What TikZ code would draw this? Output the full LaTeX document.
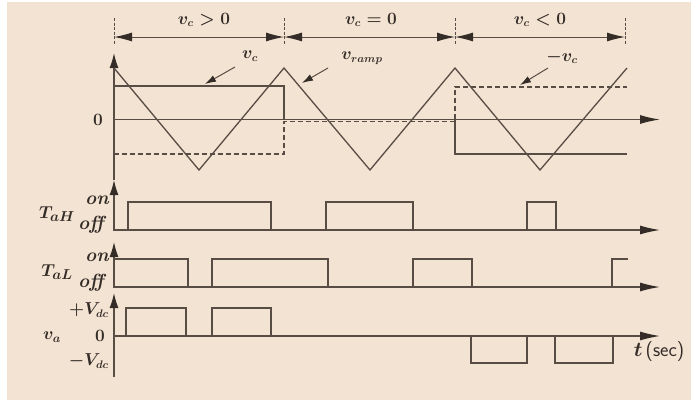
\documentclass[tikz,border=0pt]{standalone}
\usepackage{amsmath,amssymb}
\usepackage[dvipsnames]{xcolor}
\usepackage{tikz}
\usetikzlibrary{arrows.meta}

\definecolor{cream}{RGB}{243,227,211}
\definecolor{ink}{RGB}{88,77,68}
\definecolor{inkdark}{RGB}{52,44,39}

\tikzset{
  wave/.style={ink,line width=1.3pt},
  axisarrow/.style={ink,line width=1.3pt,-{Latex[length=15pt,width=9pt,color=inkdark]}},
  timearrow/.style={ink,line width=1.3pt,-{Latex[length=20pt,width=9pt,color=inkdark]}},
  dimarrow/.style={ink,line width=1pt,{Latex[length=18pt,width=9pt,color=inkdark]}-{Latex[length=18pt,width=9pt,color=inkdark]}},
  tickmark/.style={ink,line width=1pt,dash pattern=on 3pt off 1.5pt},
  lblarrow/.style={ink,line width=1pt,-{Latex[length=11pt,width=7pt,color=inkdark]}},
  lbl/.style={inkdark,font=\fontsize{16}{19}\selectfont\boldmath,inner sep=0pt},
  onoff/.style={inkdark,font=\fontsize{19}{22}\selectfont\bfseries\itshape,inner sep=0pt}
}

\begin{document}
\begin{tikzpicture}[x=1pt,y=-1pt]
  \useasboundingbox (0,0) rectangle (691,402);
  \fill[white] (0,0) rectangle (691,402);
  \fill[cream] (7,2) rectangle (691,400);

  % intervals of v_c
  \foreach \x [count=\k from 0] in {114,284,455,625} {
    \draw[tickmark] (\x,18) -- (\x,45);
    \coordinate (d\k) at (\x,37);
  }
  \draw[dimarrow] (d0) -- (d1);
  \draw[dimarrow] (d1) -- (d2);
  \draw[dimarrow] (d2) -- (d3);
  \node[lbl] (vpos) at (204,20) {$v_c>0$};
  \node[lbl] (vnil) at (371,20) {$v_c=0$};
  \node[lbl] (vneg) at (540,20) {$v_c<0$};

  % axes
  \draw[axisarrow] (114,180) -- (114,53);
  \draw[timearrow] (114,119.5) -- (660,119.5);
  \draw[axisarrow] (114,231) -- (114,180);
  \draw[timearrow] (114,230) -- (660,230);
  \draw[axisarrow] (114,288) -- (114,242);
  \draw[timearrow] (114,287) -- (660,287);
  \draw[axisarrow] (114,377) -- (114,293);
  \draw[timearrow] (114,336) -- (660,336);

  % ramp and control signals
  \draw[wave] (114,68) -- (199,170) -- (284,68) -- (370,170) -- (455,68) -- (540,170) -- (627,68);
  \draw[wave] (114,86) -- (284,86) -- (284,119.5);
  \draw[wave] (455,119.5) -- (455,154) -- (627,154);
  \draw[wave,dash pattern=on 5pt off 3pt] (114,154) -- (284,154) -- (284,121.5) -- (455,121.5) -- (455,87) -- (627,87);

  \node[lbl] (zero) at (98,119.5) {$0$};
  \node[lbl] (vc) at (250,56) {$v_c$};
  \node[lbl] (vramp) at (362,58) {$v_{ramp}$};
  \node[lbl] (mvc) at (562,57) {$-v_c$};
  \coordinate (vcS) at (235,67);  \coordinate (vcE) at (205,84);
  \coordinate (vrS) at (328,68);  \coordinate (vrE) at (302,83);
  \coordinate (mvS) at (548,68);  \coordinate (mvE) at (520,85);
  \draw[lblarrow] (vcS) -- (vcE);
  \draw[lblarrow] (vrS) -- (vrE);
  \draw[lblarrow] (mvS) -- (mvE);

  % switch states
  \foreach \a/\b in {128/271,326/413,527/556}
    \draw[wave] (\a,230) -- (\a,202) -- (\b,202) -- (\b,230);
  \draw[wave] (114,259) -- (188,259) -- (188,287);
  \foreach \a/\b in {212/328,413/472}
    \draw[wave] (\a,287) -- (\a,259) -- (\b,259) -- (\b,287);
  \draw[wave] (612,287) -- (612,259) -- (628,259);

  \node[lbl,font=\fontsize{19}{22}\selectfont\boldmath] (tah) at (57,214) {$T_{aH}$};
  \node[onoff] (tahon) at (97,200) {on};
  \node[onoff] (tahoff) at (91,225) {off};
  \node[lbl,font=\fontsize{19}{22}\selectfont\boldmath] (tal) at (57,272) {$T_{aL}$};
  \node[onoff] (talon) at (97,257) {on};
  \node[onoff] (taloff) at (91,283) {off};

  % output voltage
  \foreach \a/\b in {126/186,212/271}
    \draw[wave] (\a,336) -- (\a,308) -- (\b,308) -- (\b,336);
  \foreach \a/\b in {471/527,555/613}
    \draw[wave] (\a,336) -- (\a,363) -- (\b,363) -- (\b,336);

  \node[lbl,anchor=east] (vdcp) at (109,310) {$+V_{dc}$};
  \node[lbl] (vazero) at (100,336) {$0$};
  \node[lbl,font=\fontsize{18}{21}\selectfont\boldmath] (va) at (52,337) {$v_a$};
  \node[lbl,anchor=east] (vdcm) at (109,361) {$-V_{dc}$};
  \node[lbl,font=\fontsize{20}{23}\selectfont\boldmath] (time) at (659,352) {$t$\,\textsf{(sec)}};
\end{tikzpicture}
\end{document}
